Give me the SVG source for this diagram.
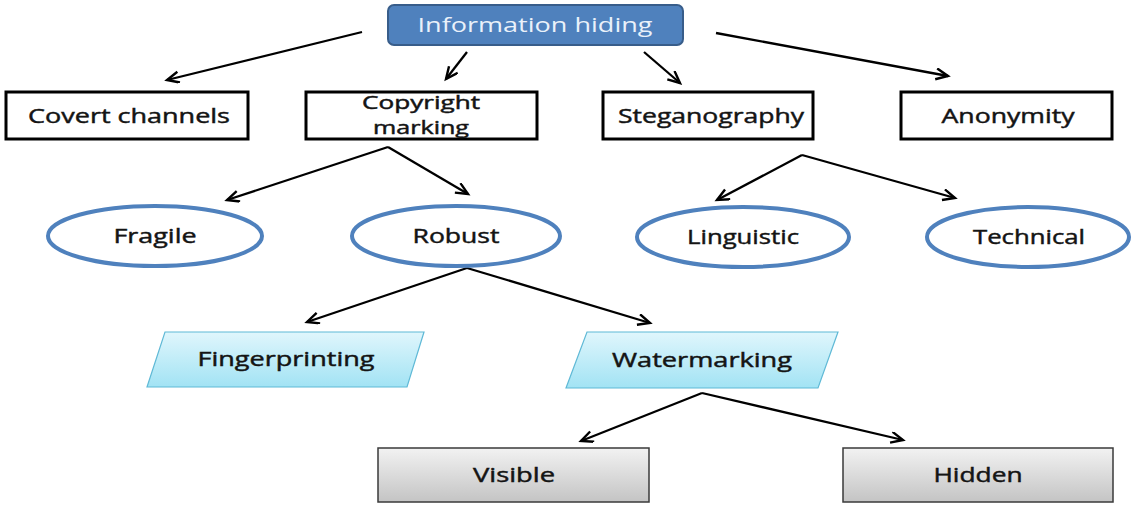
<svg xmlns="http://www.w3.org/2000/svg" width="1136" height="506" viewBox="0 0 1136 506">
  <defs>
    <marker id="arrow" markerUnits="userSpaceOnUse" markerWidth="16" markerHeight="14" refX="13" refY="6" orient="auto">
      <path d="M1,0.5 L13,6 L1,11.5" fill="none" stroke="#000" stroke-width="2.4" stroke-linejoin="miter"/>
    </marker>
    <linearGradient id="cyanFill" x1="0" y1="0" x2="0" y2="1">
      <stop offset="0" stop-color="#e0f6fc"/>
      <stop offset="1" stop-color="#a2e3f4"/>
    </linearGradient>
    <linearGradient id="greyFill" x1="0" y1="0" x2="0" y2="1">
      <stop offset="0" stop-color="#f2f2f2"/>
      <stop offset="1" stop-color="#c4c4c4"/>
    </linearGradient>
  </defs>
  <style>
    text { font-family: "Open Sans", "Noto Sans", sans-serif; font-size: 20px; fill: #141414; stroke: #141414; stroke-width: 0.45; text-anchor: middle; }
    .root rect { fill: #4f81bd; stroke: #385d8a; stroke-width: 2; }
    .root text { fill: #eaf1fa; stroke: none; }
    .box rect { fill: #fff; stroke: #000; stroke-width: 3; }
    .box .two { font-size: 18px; }
    .oval ellipse { fill: #fff; stroke: #4f81bd; stroke-width: 4; }
    .para polygon { fill: url(#cyanFill); stroke: #5fb9d6; stroke-width: 1.2; }
    .grey rect { fill: url(#greyFill); stroke: #3a3a3a; stroke-width: 1.5; }
    #connectors line { stroke: #000; stroke-width: 2.3; marker-end: url(#arrow); }
  </style>

  <rect width="1136" height="506" fill="#fff"/>

  <!-- connectors -->
  <g id="connectors">
    <line x1="362" y1="32" x2="167" y2="80"/>
    <line x1="467" y1="52" x2="446" y2="79"/>
    <line x1="644" y1="52" x2="680" y2="83"/>
    <line x1="716" y1="33" x2="948" y2="76"/>
    <line x1="388" y1="147" x2="227" y2="200"/>
    <line x1="388" y1="147" x2="468" y2="194"/>
    <line x1="802" y1="155" x2="717" y2="200"/>
    <line x1="802" y1="155" x2="955" y2="198"/>
    <line x1="467" y1="268" x2="307" y2="322"/>
    <line x1="467" y1="268" x2="650" y2="323"/>
    <line x1="702" y1="393" x2="581" y2="441"/>
    <line x1="702" y1="393" x2="903" y2="440"/>
  </g>

  <!-- top-level node -->
  <g id="information-hiding" class="root">
    <rect x="388" y="5" width="295" height="40" rx="6"/>
    <text x="535" y="32" textLength="235" lengthAdjust="spacingAndGlyphs">Information hiding</text>
  </g>

  <!-- second row -->
  <g id="covert-channels" class="box">
    <rect x="6" y="92" width="242" height="47"/>
    <text x="129" y="123" textLength="202" lengthAdjust="spacingAndGlyphs">Covert channels</text>
  </g>
  <g id="copyright-marking" class="box">
    <rect x="306" y="92" width="231" height="47"/>
    <text class="two" x="421" y="109" textLength="118" lengthAdjust="spacingAndGlyphs">Copyright</text>
    <text class="two" x="421" y="134" textLength="96" lengthAdjust="spacingAndGlyphs">marking</text>
  </g>
  <g id="steganography" class="box">
    <rect x="603" y="92" width="210" height="47"/>
    <text x="711" y="123" textLength="186" lengthAdjust="spacingAndGlyphs">Steganography</text>
  </g>
  <g id="anonymity" class="box">
    <rect x="901" y="92" width="211" height="47"/>
    <text x="1008" y="123" textLength="133" lengthAdjust="spacingAndGlyphs">Anonymity</text>
  </g>

  <!-- third row -->
  <g id="fragile" class="oval">
    <ellipse cx="155" cy="236" rx="107" ry="30"/>
    <text x="155" y="243" textLength="83" lengthAdjust="spacingAndGlyphs">Fragile</text>
  </g>
  <g id="robust" class="oval">
    <ellipse cx="456" cy="236" rx="104" ry="30"/>
    <text x="456" y="243" textLength="87" lengthAdjust="spacingAndGlyphs">Robust</text>
  </g>
  <g id="linguistic" class="oval">
    <ellipse cx="743" cy="237" rx="106" ry="30"/>
    <text x="743" y="244" textLength="112" lengthAdjust="spacingAndGlyphs">Linguistic</text>
  </g>
  <g id="technical" class="oval">
    <ellipse cx="1028" cy="237" rx="101" ry="30"/>
    <text x="1029" y="244" textLength="112" lengthAdjust="spacingAndGlyphs">Technical</text>
  </g>

  <!-- fourth row -->
  <g id="fingerprinting" class="para">
    <polygon points="165,332 424,332 407,387 147,387"/>
    <text x="286" y="366" textLength="177" lengthAdjust="spacingAndGlyphs">Fingerprinting</text>
  </g>
  <g id="watermarking" class="para">
    <polygon points="587,332 838,332 818,388 566,388"/>
    <text x="702" y="367" textLength="180" lengthAdjust="spacingAndGlyphs">Watermarking</text>
  </g>

  <!-- fifth row -->
  <g id="visible" class="grey">
    <rect x="378" y="448" width="271" height="54"/>
    <text x="514" y="482" textLength="82" lengthAdjust="spacingAndGlyphs">Visible</text>
  </g>
  <g id="hidden" class="grey">
    <rect x="843" y="448" width="270" height="54"/>
    <text x="978" y="482" textLength="89" lengthAdjust="spacingAndGlyphs">Hidden</text>
  </g>
</svg>
